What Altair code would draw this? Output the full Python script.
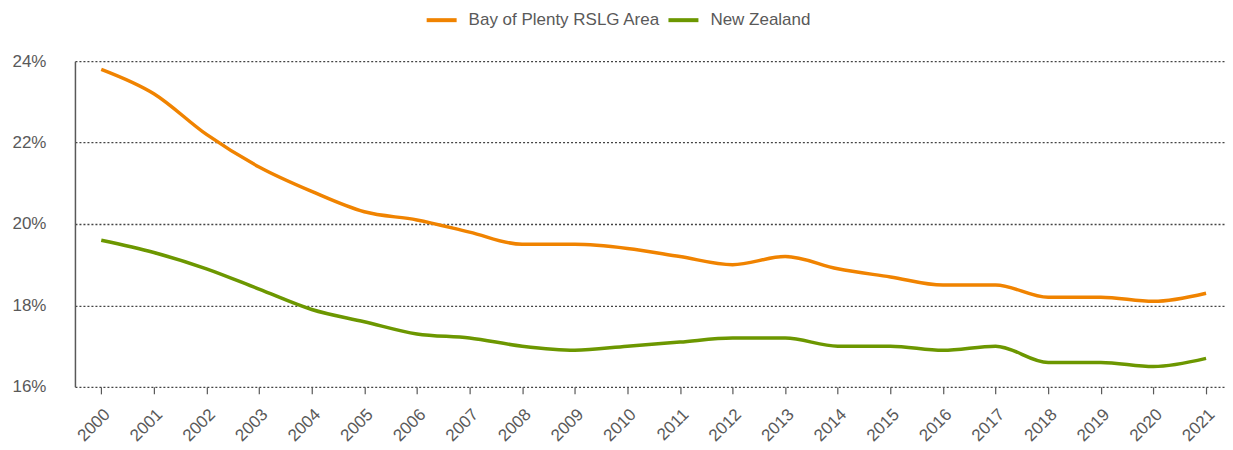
import altair as alt
import pandas as pd

years = list(range(2000, 2022))
bop = [23.8, 23.2, 22.2, 21.4, 20.8, 20.3, 20.1, 19.8, 19.5, 19.5, 19.4, 19.2,
       19.0, 19.2, 18.9, 18.7, 18.5, 18.5, 18.2, 18.2, 18.1, 18.3]
nz = [19.6, 19.3, 18.9, 18.4, 17.9, 17.6, 17.3, 17.2, 17.0, 16.9, 17.0, 17.1,
      17.2, 17.2, 17.0, 17.0, 16.9, 17.0, 16.6, 16.6, 16.5, 16.7]
series_names = ["Bay of Plenty RSLG Area", "New Zealand"]
colors = ["#F08300", "#6C9700"]

rows = []
for y, a, b in zip(years, bop, nz):
    rows.append({"year": y, "series": series_names[0], "value": a / 100})
    rows.append({"year": y, "series": series_names[1], "value": b / 100})
df = pd.DataFrame(rows)

chart = alt.Chart(df).mark_line(interpolate="monotone", strokeWidth=3.5).encode(
    x=alt.X("year:Q",
            scale=alt.Scale(domain=[1999.5, 2021.36], nice=False, zero=False),
            axis=alt.Axis(values=years, format="d", labelAngle=-45, title=None,
                          grid=False, domain=False, ticks=True, tickSize=7,
                          tickColor="#595959", tickWidth=1.2,
                          labelColor="#595959", labelFontSize=17,
                          labelFont="Liberation Sans", labelPadding=12)),
    y=alt.Y("value:Q",
            scale=alt.Scale(domain=[0.16, 0.24], nice=False, zero=False),
            axis=alt.Axis(values=[0.16, 0.18, 0.20, 0.22, 0.24], format=".0%",
                          title=None, ticks=False, domain=True,
                          domainColor="#595959", domainWidth=1.5,
                          grid=True, gridColor="#444444", gridDash=[2, 2],
                          gridWidth=1.3, labelColor="#595959", labelFontSize=17,
                          labelFont="Liberation Sans", labelPadding=29)),
    color=alt.Color("series:N",
                    scale=alt.Scale(domain=series_names, range=colors),
                    legend=alt.Legend(orient="none", legendX=350, legendY=-58,
                                      direction="horizontal", title=None,
                                      symbolType="stroke", symbolSize=900,
                                      symbolStrokeWidth=4, labelFontSize=17,
                                      labelFont="Liberation Sans",
                                      labelColor="#595959", labelOffset=10,
                                      labelLimit=0, columnPadding=0)),
).properties(
    width=1151, height=326,
    padding={"left": 3, "top": -5, "right": 0, "bottom": 0},
).configure_view(stroke=None)

chart.save("out.html", embed_options={"renderer": "svg", "actions": False})
